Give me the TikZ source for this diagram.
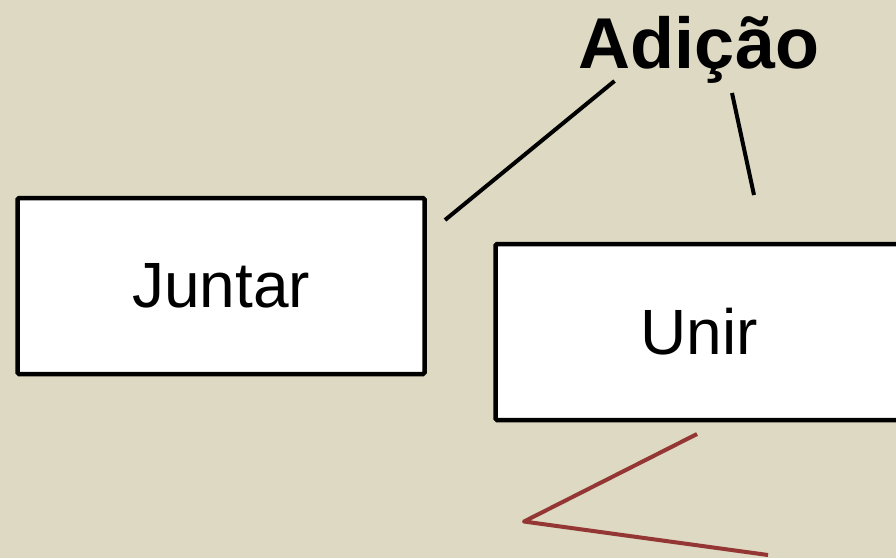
\documentclass[tikz,border=0pt]{standalone}
\usepackage{fontspec}
\setmainfont{Liberation Sans}
\definecolor{bgtan}{HTML}{DDD9C3}
\definecolor{darkred}{HTML}{943634}
\begin{document}
\begin{tikzpicture}[x=1pt,y=-1pt,
  box/.style={draw=black, line width=4.5pt, fill=white, rounded corners=1.5pt,
    minimum width=407pt, minimum height=176pt, inner sep=0pt,
    font=\fontsize{64}{70}\selectfont},
  title/.style={font=\fontsize{72}{80}\selectfont\bfseries, anchor=base, inner sep=0pt},
  blk/.style={draw=black, line width=4pt},
  redl/.style={draw=darkred, line width=4pt, line join=round}]
\fill[bgtan] (0,0) rectangle (896,558);
\useasboundingbox (0,0) rectangle (896,558);
\node[title] (adicao) at (699,68.3) {Adição};
\node[box] (juntar) at (221,286) {Juntar};
\node[box] (unir) at (699,332) {Unir};
\coordinate (a1) at (445,220);
\coordinate (a2) at (614.5,81);
\coordinate (b1) at (732,93);
\coordinate (b2) at (754,195);
\coordinate (r1) at (697,434);
\coordinate (r2) at (524,521.5);
\coordinate (r3) at (768,555);
\draw[blk] (a1) -- (a2);
\draw[blk] (b1) -- (b2);
\draw[redl] (r1) -- (r2) -- (r3);
\end{tikzpicture}
\end{document}
